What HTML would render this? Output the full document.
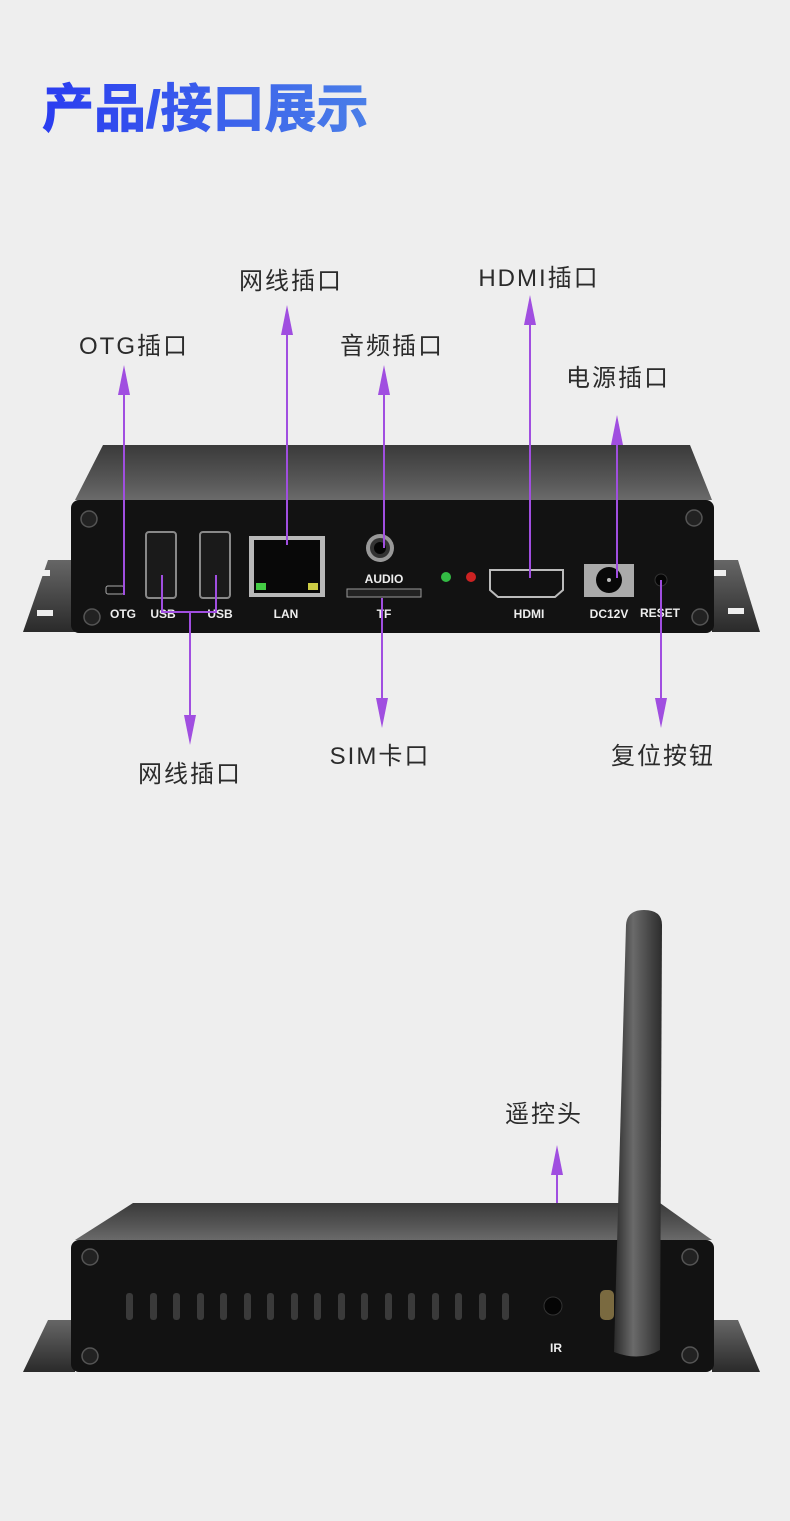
<!DOCTYPE html>
<html><head><meta charset="utf-8"><style>
html,body{margin:0;padding:0;background:#eeeeee;}
svg{display:block}
.lb{font-family:"Liberation Sans","Noto Sans CJK SC",sans-serif;font-size:24px;fill:#2b2b2b;letter-spacing:2px;text-anchor:middle}
.pl{font-family:"Liberation Sans",sans-serif;font-size:12px;fill:#eee;text-anchor:middle;font-weight:bold}
</style></head><body>
<svg width="790" height="1521" viewBox="0 0 790 1521" xmlns="http://www.w3.org/2000/svg">
<defs>
<linearGradient id="tg" x1="0" x2="1"><stop offset="0" stop-color="#2a3cf0"/><stop offset="1" stop-color="#4a7fe8"/></linearGradient>
<linearGradient id="lid" x1="0" y1="0" x2="0" y2="1"><stop offset="0" stop-color="#3a3a3a"/><stop offset="0.6" stop-color="#555"/><stop offset="1" stop-color="#6a6a6a"/></linearGradient>
<linearGradient id="fl" x1="0" y1="0" x2="0" y2="1"><stop offset="0" stop-color="#666"/><stop offset="1" stop-color="#2a2a2a"/></linearGradient>
<linearGradient id="ant" x1="0" x2="1"><stop offset="0" stop-color="#2a2a2a"/><stop offset="0.4" stop-color="#6a6a6a"/><stop offset="1" stop-color="#2c2c2c"/></linearGradient>
</defs>
<text x="42" y="127" font-family="Liberation Sans,Noto Sans CJK SC,sans-serif" font-size="52" font-weight="bold" fill="url(#tg)" stroke="url(#tg)" stroke-width="1">产品/接口展示</text>

<!-- top device -->
<path d="M23 632 L48 560 L75 560 L75 632 Z" fill="url(#fl)"/>
<path d="M760 632 L738 560 L712 560 L712 632 Z" fill="url(#fl)"/>
<rect x="34" y="570" width="16" height="6" fill="#eee"/><rect x="37" y="610" width="16" height="6" fill="#eee"/>
<rect x="714" y="570" width="12" height="6" fill="#eee"/><rect x="728" y="608" width="16" height="6" fill="#eee"/>
<path d="M103 445 L690 445 L712 500 L75 500 Z" fill="url(#lid)"/>
<rect x="71" y="500" width="643" height="133" rx="8" fill="#121212"/>
<g fill="#222" stroke="#555" stroke-width="1.5"><circle cx="89" cy="519" r="8"/><circle cx="694" cy="518" r="8"/><circle cx="92" cy="617" r="8"/><circle cx="700" cy="617" r="8"/></g>
<rect x="106" y="586" width="18" height="8" rx="2" fill="#111" stroke="#aaa"/>
<g fill="#1a1a1a" stroke="#888" stroke-width="2"><rect x="146" y="532" width="30" height="66" rx="3"/><rect x="200" y="532" width="30" height="66" rx="3"/></g>
<rect x="249" y="536" width="76" height="61" fill="#b8b8b8"/><rect x="254" y="540" width="66" height="53" fill="#080808"/>
<rect x="256" y="583" width="10" height="7" fill="#4c4"/><rect x="308" y="583" width="10" height="7" fill="#cc4"/>
<circle cx="380" cy="548" r="14" fill="#999"/><circle cx="380" cy="548" r="10" fill="#333"/><circle cx="380" cy="548" r="6" fill="#050505"/>
<rect x="347" y="589" width="74" height="8" fill="#222" stroke="#999"/>
<circle cx="446" cy="577" r="5" fill="#3b4"/><circle cx="471" cy="577" r="5" fill="#c22"/>
<path d="M490 570 L563 570 L563 590 L555 597 L498 597 L490 590 Z" fill="#111" stroke="#bbb" stroke-width="2"/>
<rect x="584" y="564" width="50" height="33" fill="#aaa"/><circle cx="609" cy="580" r="13" fill="#080808"/><circle cx="609" cy="580" r="2" fill="#bbb"/>
<circle cx="661" cy="580" r="6" fill="#050505" stroke="#333"/>
<text class="pl" x="123" y="618">OTG</text><text class="pl" x="163" y="618">USB</text><text class="pl" x="220" y="618">USB</text><text class="pl" x="286" y="618">LAN</text>
<text class="pl" x="384" y="583">AUDIO</text><text class="pl" x="384" y="618">TF</text><text class="pl" x="529" y="618">HDMI</text><text class="pl" x="609" y="618">DC12V</text>
<text class="pl" x="660" y="617" font-size="9">RESET</text>

<g stroke="#a04ee0" stroke-width="2" fill="none">
<line x1="124" y1="595" x2="124" y2="390"/>
<line x1="287" y1="545" x2="287" y2="330"/>
<line x1="384" y1="548" x2="384" y2="390"/>
<line x1="530" y1="578" x2="530" y2="320"/>
<line x1="617" y1="578" x2="617" y2="440"/>
<path d="M162 575 V612 H216 V575"/>
<line x1="190" y1="612" x2="190" y2="720"/>
<line x1="382" y1="598" x2="382" y2="703"/>
<line x1="661" y1="580" x2="661" y2="703"/>
<line x1="557" y1="1300" x2="557" y2="1170"/>
</g>
<g fill="#a04ee0">
<path d="M118 395 L124 365 L130 395 Z"/>
<path d="M281 335 L287 305 L293 335 Z"/>
<path d="M378 395 L384 365 L390 395 Z"/>
<path d="M524 325 L530 295 L536 325 Z"/>
<path d="M611 445 L617 415 L623 445 Z"/>
<path d="M184 715 L190 745 L196 715 Z"/>
<path d="M376 698 L382 728 L388 698 Z"/>
<path d="M655 698 L661 728 L667 698 Z"/>
<path d="M551 1175 L557 1145 L563 1175 Z"/>
</g>
<text class="lb" x="291" y="289">网线插口</text>
<text class="lb" x="134" y="354">OTG插口</text>
<text class="lb" x="392" y="354">音频插口</text>
<text class="lb" x="539" y="286">HDMI插口</text>
<text class="lb" x="618" y="386">电源插口</text>
<text class="lb" x="190" y="782">网线插口</text>
<text class="lb" x="380" y="764">SIM卡口</text>
<text class="lb" x="663" y="764">复位按钮</text>
<text class="lb" x="544" y="1122">遥控头</text>

<!-- bottom device -->
<path d="M23 1372 L48 1320 L75 1320 L75 1372 Z" fill="url(#fl)"/>
<path d="M760 1372 L738 1320 L712 1320 L712 1372 Z" fill="url(#fl)"/>
<path d="M133 1203 L660 1203 L712 1240 L75 1240 Z" fill="url(#lid)"/>
<rect x="71" y="1240" width="643" height="132" rx="8" fill="#121212"/>
<g fill="#222" stroke="#555" stroke-width="1.5"><circle cx="90" cy="1257" r="8"/><circle cx="690" cy="1257" r="8"/><circle cx="90" cy="1356" r="8"/><circle cx="690" cy="1355" r="8"/></g>
<g fill="#3a3a3a">
<rect x="126" y="1293" width="7" height="27" rx="3"/><rect x="150" y="1293" width="7" height="27" rx="3"/><rect x="173" y="1293" width="7" height="27" rx="3"/><rect x="197" y="1293" width="7" height="27" rx="3"/><rect x="220" y="1293" width="7" height="27" rx="3"/><rect x="244" y="1293" width="7" height="27" rx="3"/><rect x="267" y="1293" width="7" height="27" rx="3"/><rect x="291" y="1293" width="7" height="27" rx="3"/><rect x="314" y="1293" width="7" height="27" rx="3"/><rect x="338" y="1293" width="7" height="27" rx="3"/><rect x="361" y="1293" width="7" height="27" rx="3"/><rect x="385" y="1293" width="7" height="27" rx="3"/><rect x="408" y="1293" width="7" height="27" rx="3"/><rect x="432" y="1293" width="7" height="27" rx="3"/><rect x="455" y="1293" width="7" height="27" rx="3"/><rect x="479" y="1293" width="7" height="27" rx="3"/><rect x="502" y="1293" width="7" height="27" rx="3"/>
</g>
<circle cx="553" cy="1306" r="9" fill="#050505" stroke="#333"/>
<text class="pl" x="556" y="1352">IR</text>
<rect x="600" y="1290" width="14" height="30" rx="5" fill="#7a6a40"/>
<path d="M626 925 Q627 910 644 910 Q662 910 662 925 L660 1350 Q640 1362 614 1352 Z" fill="url(#ant)"/>
</svg>
</body></html>
